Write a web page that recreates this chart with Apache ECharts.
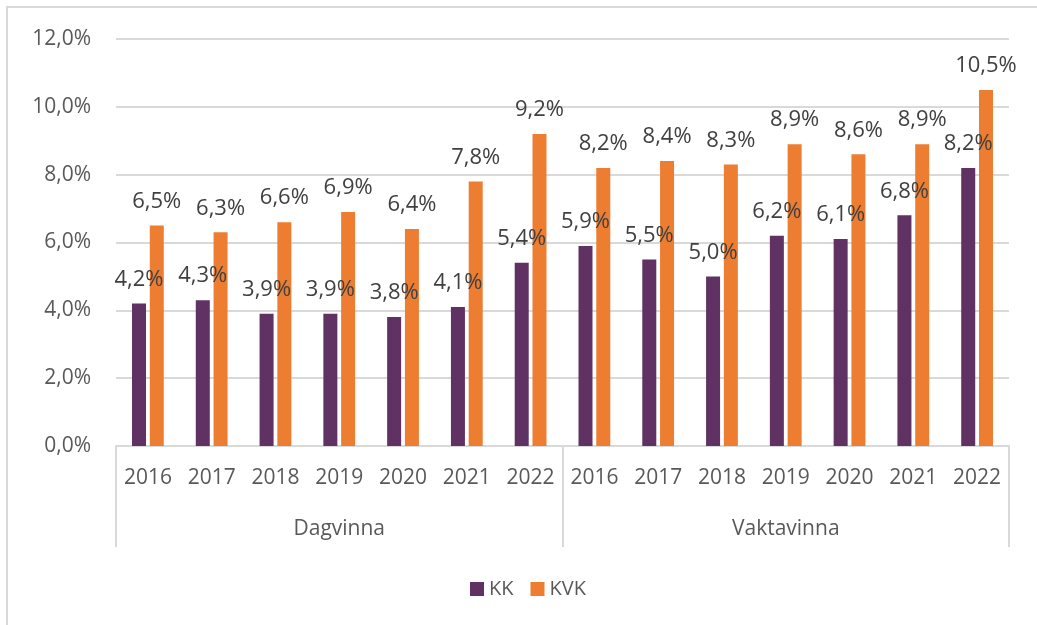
<!DOCTYPE html>
<html>
<head>
<meta charset="utf-8">
<script src="https://cdn.jsdelivr.net/npm/echarts@6/dist/echarts.min.js"></script>
<style>
  html, body {margin: 0; padding: 0; background: #fff;}
  #chart {width: 1037px; height: 625px;}
</style>
</head>
<body>
<div id="chart"></div>
<script>
// values in percent
const years = ['2016', '2017', '2018', '2019', '2020', '2021', '2022'];
const groups = ['Dagvinna', 'Vaktavinna'];
const kkDag = [4.2, 4.3, 3.9, 3.9, 3.8, 4.1, 5.4];
const kkVakt = [5.9, 5.5, 5.0, 6.2, 6.1, 6.8, 8.2];
const kvkDag = [6.5, 6.3, 6.6, 6.9, 6.4, 7.8, 9.2];
const kvkVakt = [8.2, 8.4, 8.3, 8.9, 8.6, 8.9, 10.5];

const cats = years.concat(years);
const kk = kkDag.concat(kkVakt);
const kvk = kvkDag.concat(kvkVakt);

const font = 'Open Sans';
const textColor = '#595959';
const lineColor = '#d9d9d9';
const pct = v => v.toFixed(1).replace('.', ',') + '%';

const chart = echarts.init(document.getElementById('chart'));

const barLabel = {
    show: true,
    position: 'top',
    distance: 13,
    fontFamily: font,
    fontSize: 22,
    color: '#404040',
    formatter: p => pct(p.value)
};

chart.setOption({
    animation: false,
    textStyle: {fontFamily: font, color: textColor},
    graphic: [{
        type: 'rect',
        shape: {x: 7, y: 7, width: 1060, height: 660},
        style: {fill: 'none', stroke: lineColor, lineWidth: 2}
    }],
    grid: {left: 116, right: 28, top: 39, bottom: 179},
    legend: {
        left: 465,
        top: 574,
        itemWidth: 14,
        itemHeight: 14,
        itemGap: 17,
        icon: 'rect',
        textStyle: {fontFamily: font, fontSize: 20, color: textColor},
        data: ['KK', 'KVK']
    },
    xAxis: [{
        type: 'category',
        data: cats,
        axisTick: {show: false},
        axisLine: {lineStyle: {color: lineColor, width: 2}},
        axisLabel: {
            interval: 0,
            margin: 22,
            fontFamily: font,
            fontSize: 21,
            color: textColor
        }
    }, {
        type: 'category',
        data: groups,
        position: 'bottom',
        axisLine: {show: false},
        axisTick: {show: true, length: 101, lineStyle: {color: lineColor, width: 2}},
        axisLabel: {
            margin: 73,
            fontFamily: font,
            fontSize: 21,
            color: textColor
        }
    }],
    yAxis: {
        type: 'value',
        min: 0,
        max: 12,
        interval: 2,
        axisLine: {show: false},
        axisTick: {show: false},
        splitLine: {lineStyle: {color: lineColor, width: 2}},
        axisLabel: {
            margin: 25,
            fontFamily: font,
            fontSize: 21,
            color: textColor,
            formatter: v => pct(v)
        }
    },
    series: [{
        name: 'KK',
        type: 'bar',
        data: kk,
        barWidth: 14,
        barGap: '27%',
        itemStyle: {color: '#5f3263'},
        label: barLabel
    }, {
        name: 'KVK',
        type: 'bar',
        data: kvk,
        barWidth: 14,
        itemStyle: {color: '#ed7d31'},
        label: barLabel
    }]
});
</script>
</body>
</html>
